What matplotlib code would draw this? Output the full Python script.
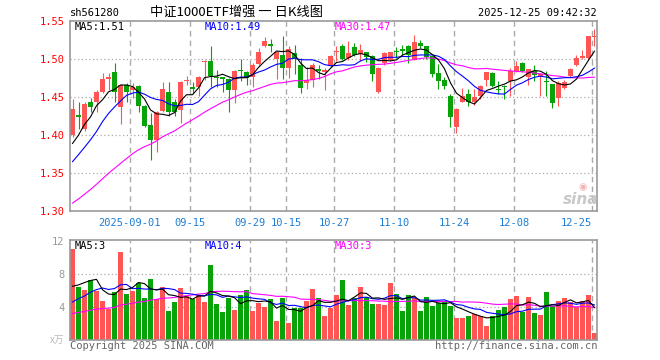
import matplotlib
matplotlib.use('Agg')
import matplotlib.pyplot as plt
import pandas as pd

# daily K line of sh561280, 2025-08-18 .. 2025-12-25 (88 sessions)
opens = [1.400, 1.426, 1.408, 1.443, 1.444, 1.457, 1.474, 1.483, 1.437, 1.466,
         1.460, 1.465, 1.439, 1.413, 1.394, 1.432, 1.457, 1.443, 1.433, 1.471,
         1.463, 1.464, 1.496, 1.498, 1.476, 1.476, 1.474, 1.459, 1.486, 1.483,
         1.477, 1.494, 1.517, 1.520, 1.500, 1.505, 1.489, 1.508, 1.492, 1.468,
         1.473, 1.487, 1.483, 1.491, 1.510, 1.517, 1.501, 1.516, 1.507, 1.509,
         1.504, 1.457, 1.495, 1.499, 1.511, 1.514, 1.518, 1.499, 1.521, 1.517,
         1.504, 1.482, 1.472, 1.452, 1.411, 1.444, 1.454, 1.443, 1.452, 1.472,
         1.482, 1.461, 1.465, 1.471, 1.484, 1.495, 1.476, 1.484, 1.478, 1.471,
         1.467, 1.449, 1.462, 1.478, 1.492, 1.502, 1.502, 1.529]
highs = [1.448, 1.443, 1.443, 1.449, 1.459, 1.482, 1.482, 1.495, 1.467, 1.469,
         1.468, 1.466, 1.440, 1.429, 1.432, 1.470, 1.470, 1.448, 1.471, 1.478,
         1.470, 1.478, 1.499, 1.517, 1.486, 1.477, 1.475, 1.486, 1.500, 1.485,
         1.495, 1.515, 1.529, 1.527, 1.511, 1.531, 1.518, 1.519, 1.502, 1.490,
         1.495, 1.492, 1.489, 1.505, 1.517, 1.520, 1.524, 1.521, 1.520, 1.510,
         1.505, 1.490, 1.509, 1.510, 1.516, 1.519, 1.519, 1.532, 1.525, 1.517,
         1.504, 1.494, 1.477, 1.454, 1.436, 1.462, 1.461, 1.461, 1.466, 1.483,
         1.483, 1.471, 1.466, 1.488, 1.497, 1.496, 1.487, 1.493, 1.482, 1.484,
         1.467, 1.471, 1.473, 1.489, 1.506, 1.512, 1.531, 1.540]
lows = [1.398, 1.408, 1.406, 1.431, 1.431, 1.456, 1.459, 1.443, 1.414, 1.444,
        1.449, 1.430, 1.411, 1.367, 1.378, 1.430, 1.425, 1.425, 1.416, 1.466,
        1.455, 1.451, 1.473, 1.464, 1.464, 1.457, 1.430, 1.442, 1.471, 1.466,
        1.464, 1.493, 1.516, 1.509, 1.474, 1.474, 1.475, 1.480, 1.456, 1.461,
        1.463, 1.474, 1.460, 1.490, 1.498, 1.499, 1.499, 1.504, 1.498, 1.496,
        1.471, 1.456, 1.492, 1.497, 1.502, 1.506, 1.495, 1.499, 1.515, 1.500,
        1.477, 1.461, 1.461, 1.411, 1.403, 1.443, 1.438, 1.440, 1.447, 1.465,
        1.463, 1.454, 1.448, 1.452, 1.483, 1.483, 1.466, 1.471, 1.451, 1.451,
        1.436, 1.438, 1.461, 1.476, 1.491, 1.500, 1.500, 1.517]
closes = [1.435, 1.424, 1.441, 1.437, 1.457, 1.474, 1.476, 1.457, 1.466, 1.457,
          1.464, 1.439, 1.412, 1.394, 1.431, 1.461, 1.431, 1.431, 1.470, 1.473,
          1.461, 1.476, 1.498, 1.478, 1.475, 1.474, 1.460, 1.485, 1.484, 1.475,
          1.493, 1.509, 1.524, 1.518, 1.510, 1.489, 1.514, 1.500, 1.462, 1.473,
          1.493, 1.484, 1.486, 1.504, 1.511, 1.500, 1.508, 1.506, 1.512, 1.503,
          1.480, 1.489, 1.508, 1.509, 1.510, 1.511, 1.506, 1.523, 1.517, 1.503,
          1.481, 1.471, 1.465, 1.424, 1.435, 1.452, 1.444, 1.450, 1.465, 1.483,
          1.465, 1.460, 1.463, 1.485, 1.491, 1.484, 1.487, 1.479, 1.480, 1.470,
          1.442, 1.468, 1.470, 1.487, 1.502, 1.504, 1.530, 1.530]
volumes = [11.0, 6.4, 6.1, 7.3, 5.9, 4.7, 3.8, 5.8, 10.6, 5.6,
           5.9, 6.9, 5.1, 7.4, 5.0, 6.4, 3.5, 4.6, 6.3, 5.3,
           5.0, 5.4, 4.6, 9.1, 4.4, 3.4, 5.1, 3.6, 5.5, 6.1,
           3.5, 4.5, 4.0, 5.0, 2.3, 5.1, 2.1, 3.9, 3.9, 4.7,
           6.2, 5.1, 2.9, 3.9, 5.5, 7.3, 4.2, 5.1, 6.4, 5.2,
           4.4, 4.4, 4.2, 6.9, 5.6, 3.5, 5.5, 5.1, 3.5, 5.2,
           4.1, 4.5, 4.7, 4.1, 2.7, 2.7, 2.9, 3.2, 2.9, 1.7,
           2.9, 3.6, 4.0, 5.0, 5.3, 3.4, 5.2, 3.3, 3.0, 5.8,
           4.1, 4.7, 5.1, 4.6, 4.0, 4.7, 5.5, 0.9]

# the 29 sessions before the window (estimated from the MA lines), only feed the averages
pre_closes = [1.262, 1.255, 1.248, 1.251, 1.259, 1.257, 1.263, 1.270, 1.266, 1.273,
              1.281, 1.290, 1.296, 1.302, 1.299, 1.311, 1.318, 1.314, 1.322, 1.327,
              1.331, 1.345, 1.338, 1.347, 1.344, 1.369, 1.371, 1.387, 1.383]
pre_volumes = [2.3, 2.6, 2.4, 2.7, 2.2, 2.5, 2.8, 2.4, 2.3, 2.6,
               2.5, 2.7, 2.4, 2.6, 2.3, 2.5, 2.6, 2.4, 2.7, 2.5,
               2.4, 2.9, 2.6, 2.8, 2.8, 5.55, 4.7, 6.05, 5.2]

tick_pos = [10, 20, 30, 36, 44, 54, 64, 74, 87]
tick_labels = ['2025-09-01', '09-15', '09-29', '10-15', '10-27',
               '11-10', '11-24', '12-08', '12-25']
price_ticks = [1.55, 1.50, 1.45, 1.40, 1.35, 1.30]
vol_ticks = [12, 8, 4]

RED = '#FF5555'
GREEN = '#08A308'
GRID = '#AAAAAA'
MONO = 'DejaVu Sans Mono'
W, H = 660, 360


def moving_average(pre, vals, n):
    s = pd.Series(pre + vals).rolling(n).mean()
    return s.iloc[len(pre):].tolist()


def style_panel(ax):
    for sp in ax.spines.values():
        sp.set_color('#999999')
        sp.set_linewidth(1.2)
    for t in tick_pos:
        ax.axvline(t - 0.42, color=GRID, lw=1, ls=(0, (4, 3)), zorder=0)
    ax.set_xlim(-0.42, 87.42)


fig = plt.figure(figsize=(W / 100, H / 100), dpi=100)
ax = fig.add_axes([70 / W, 1 - 211 / H, 527 / W, 190.5 / H])
axv = fig.add_axes([70 / W, 1 - 340 / H, 527 / W, 100 / H])

x = list(range(len(closes)))
colors = [RED if c >= o else GREEN for o, c in zip(opens, closes)]

# price panel
style_panel(ax)
for p in price_ticks[1:-1]:
    ax.axhline(p, color=GRID, lw=0.9, ls=(0, (1, 2)), zorder=0)
ax.vlines(x, lows, highs, colors=colors, lw=0.8, zorder=2)
bodies = [max(abs(c - o), 0.0014) for o, c in zip(opens, closes)]
bottoms = [min(o, c) for o, c in zip(opens, closes)]
ax.bar(x, bodies, bottom=bottoms, width=0.78, color=colors, zorder=2)
ax.plot(x, moving_average(pre_closes, closes, 30), color='#FF00FF', lw=0.8, zorder=3)
ax.plot(x, moving_average(pre_closes, closes, 10), color='#0000FF', lw=0.8, zorder=3)
ax.plot(x, moving_average(pre_closes, closes, 5), color='black', lw=0.8, zorder=3)
ax.set_ylim(1.30, 1.551)
ax.set_yticks(price_ticks)
ax.set_yticklabels(['%.2f' % p for p in price_ticks], family=MONO)
ax.tick_params(axis='y', length=0, colors='red', labelsize=7.5, pad=4)
ax.set_xticks([t - 0.42 for t in tick_pos])
ax.set_xticklabels(tick_labels, family=MONO)
ax.tick_params(axis='x', length=0, colors='#1C7ED6', labelsize=7.5, pad=5)
ax.get_xticklabels()[-1].set_ha('right')

# volume panel
style_panel(axv)
for v in vol_ticks[1:]:
    axv.axhline(v, color=GRID, lw=0.9, ls=(0, (1, 2)), zorder=0)
axv.bar(x, volumes, width=0.82, color=colors, zorder=2)
axv.plot(x, moving_average(pre_volumes, volumes, 30), color='#FF00FF', lw=0.8, zorder=3)
axv.plot(x, moving_average(pre_volumes, volumes, 10), color='#0000FF', lw=0.8, zorder=3)
axv.plot(x, moving_average(pre_volumes, volumes, 5), color='black', lw=0.8, zorder=3)
axv.set_ylim(0, 12.1)
axv.set_yticks(vol_ticks)
axv.set_yticklabels([str(v) for v in vol_ticks], family=MONO)
axv.tick_params(axis='y', length=0, colors='#999999', labelsize=7.5, pad=4)
axv.set_xticks([])


def put(px, py, s, **kw):
    fig.text(px / W, 1 - py / H, s, va='center', **kw)


# header
put(70, 13, 'sh561280', family=MONO, fontsize=7.5)
put(150, 12, '中证1000ETF增强 一 日K线图',
    family=['Noto Sans CJK SC', 'DejaVu Sans'], fontsize=9.5)
put(597, 13, '2025-12-25 09:42:32', family=MONO, fontsize=7.5, ha='right')

# MA legends
put(75, 27, 'MA5:1.51', family=MONO, fontsize=7.5, color='black')
put(205, 27, 'MA10:1.49', family=MONO, fontsize=7.5, color='#0000FF')
put(335, 27, 'MA30:1.47', family=MONO, fontsize=7.5, color='#FF00FF')
put(75, 246, 'MA5:3', family=MONO, fontsize=7.5, color='black')
put(205, 246, 'MA10:4', family=MONO, fontsize=7.5, color='#0000FF')
put(335, 246, 'MA30:3', family=MONO, fontsize=7.5, color='#FF00FF')

# footer
put(64, 340, 'x万', family=['Noto Sans CJK SC', 'DejaVu Sans'], fontsize=7,
    color='#BBBBBB', ha='right')
put(70, 346, 'Copyright 2025 SINA.COM', family=MONO, fontsize=7.5, color='#666666')
put(597, 346, 'http://finance.sina.com.cn', family=MONO, fontsize=7.5,
    color='#666666', ha='right')

# sina watermark
put(581, 199, 'sina', fontsize=11, fontweight='bold', style='italic',
    color='#C8C8C8', ha='center')
put(583, 187, '◉', fontsize=7, color='#F4B4B4', ha='center')

fig.savefig('out.png', dpi=100)
